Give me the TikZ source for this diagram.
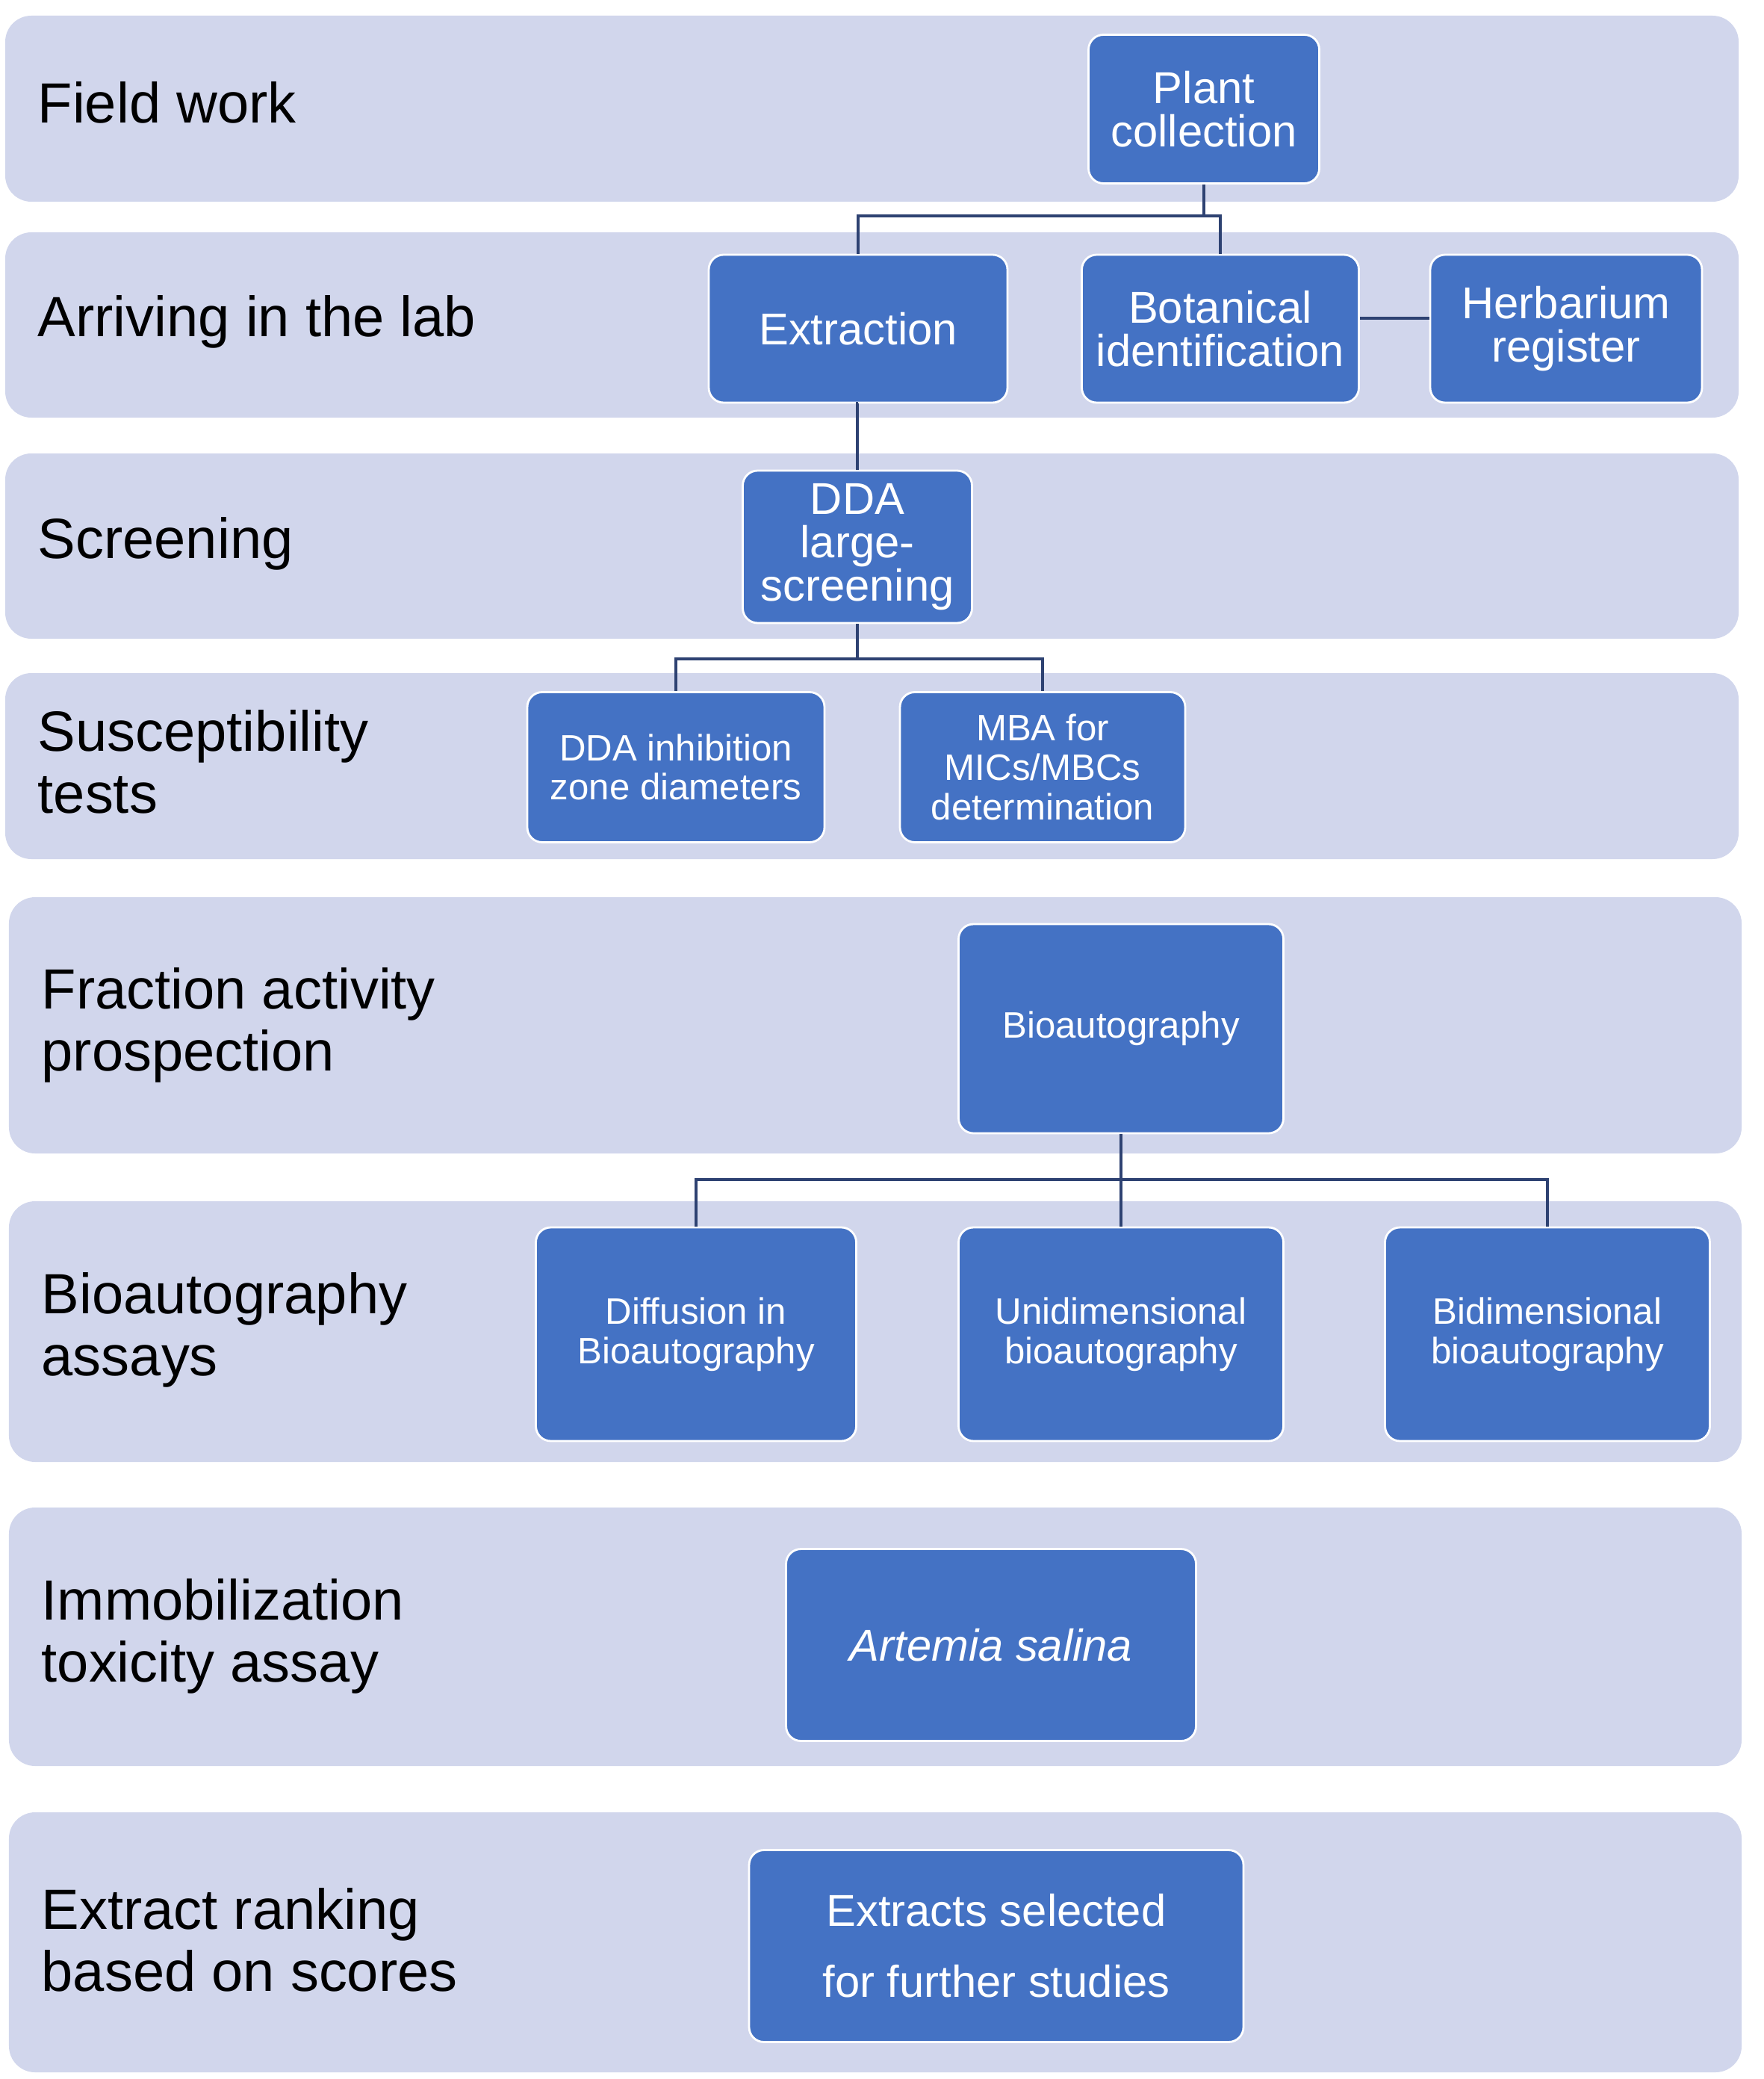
\documentclass[tikz,border=0pt]{standalone}
\usepackage{fontspec}
\setmainfont{Liberation Sans}
\usetikzlibrary{positioning}

\definecolor{bandfill}{HTML}{D1D6EC}
\definecolor{boxfill}{HTML}{4472C4}
\definecolor{linkcol}{HTML}{2E4272}

\tikzset{
  band/.style={fill=bandfill, rounded corners=0.35cm},
  lbl/.style={anchor=west, align=left, inner sep=0pt, font=\fontsize{21.6}{23.6}\selectfont},
  box/.style={rectangle, rounded corners=0.2cm, fill=boxfill, draw=white,
              line width=0.8pt, text=white, align=center, inner sep=0pt},
  bigbox/.style={box, font=\fontsize{17}{16.6}\selectfont},
  smallbox/.style={box, font=\fontsize{14}{15}\selectfont},
  link/.style={draw=linkcol, line width=1.1pt}
}

\begin{document}
\begin{tikzpicture}
\useasboundingbox (0,0) rectangle (23.62,-27.83);

% stage bands
\fill[band] (0.07,-0.21) rectangle (23.28,-2.70);
\fill[band] (0.07,-3.11) rectangle (23.28,-5.59);
\fill[band] (0.07,-6.07) rectangle (23.28,-8.55);
\fill[band] (0.07,-9.01) rectangle (23.28,-11.50);
\fill[band] (0.12,-12.01) rectangle (23.32,-15.44);
\fill[band] (0.12,-16.08) rectangle (23.32,-19.57);
\fill[band] (0.12,-20.18) rectangle (23.32,-23.64);
\fill[band] (0.12,-24.26) rectangle (23.32,-27.74);

% stage labels
\node[lbl] (fieldwork) at (0.50,-1.37)  {Field work};
\node[lbl] (arriving)  at (0.50,-4.31)  {Arriving in the lab};
\node[lbl] (screening) at (0.50,-7.28)  {Screening};
\node[lbl] (suscept)   at (0.50,-10.20) {Susceptibility\\tests};
\node[lbl] (fraction)  at (0.55,-13.72) {Fraction activity\\prospection};
\node[lbl] (bioassays) at (0.55,-17.80) {Bioautography\\assays};
\node[lbl] (immob)     at (0.55,-21.90) {Immobilization\\toxicity assay};
\node[lbl] (ranking)   at (0.55,-25.97) {Extract ranking\\based on scores};

% process boxes
\begin{scope}[every node/.style={bigbox}]
\node[minimum width=3.09cm, minimum height=1.99cm] (plant)  at (16.12,-1.46) {Plant\\collection};
\node[minimum width=4.00cm, minimum height=1.98cm] (extr)   at (11.49,-4.40) {Extraction};
\node[minimum width=3.71cm, minimum height=1.98cm] (botan)  at (16.34,-4.40) {Botanical\\identification};
\node[minimum width=3.64cm, minimum height=1.98cm] (herb)   at (20.97,-4.40) {Herbarium\\register};
\node[minimum width=3.07cm, minimum height=2.04cm] (ddals)  at (11.48,-7.32) {DDA\\large-\\screening};
\end{scope}

\begin{scope}[every node/.style={smallbox}]
\node[minimum width=3.98cm, minimum height=2.01cm] (ddainh) at (9.05,-10.27)  {DDA inhibition\\zone diameters};
\node[minimum width=3.82cm, minimum height=2.01cm] (mba)    at (13.96,-10.27) {MBA for\\MICs/MBCs\\determination};
\node[minimum width=4.35cm, minimum height=2.80cm] (bioa)   at (15.01,-13.77) {Bioautography};
\node[minimum width=4.29cm, minimum height=2.86cm] (diff)   at (9.32,-17.86)  {Diffusion in\\Bioautography};
\node[minimum width=4.35cm, minimum height=2.86cm] (uni)    at (15.01,-17.86) {Unidimensional\\bioautography};
\node[minimum width=4.35cm, minimum height=2.86cm] (bid)    at (20.72,-17.86) {Bidimensional\\bioautography};
\end{scope}

\node[bigbox, minimum width=5.49cm, minimum height=2.57cm] (artemia) at (13.27,-22.02) {\itshape Artemia salina};
\node[bigbox, font=\fontsize{17}{27}\selectfont, minimum width=6.62cm, minimum height=2.57cm]
  (extsel) at (13.34,-26.05) {Extracts selected\\for further studies};

% bus levels
\coordinate (busA) at (0,-2.89);
\coordinate (busB) at (0,-8.82);
\coordinate (busC) at (0,-15.79);

% connectors
\begin{scope}[every path/.style={link}]
\draw (plant.south) -- (plant.south |- busA) -| (extr.north);
\draw (plant.south) -- (plant.south |- busA) -| (botan.north);
\draw ([yshift=0.14cm]botan.east) -- ([yshift=0.14cm]herb.west);
\draw (extr.south) -- (extr.south -| ddals.north) -- (ddals.north);
\draw (ddals.south) -- (ddals.south |- busB) -| (ddainh.north);
\draw (ddals.south) -- (ddals.south |- busB) -| (mba.north);
\draw (bioa.south) -- (bioa.south |- busC) -| (diff.north);
\draw (bioa.south) -- (uni.north);
\draw (bioa.south) -- (bioa.south |- busC) -| (bid.north);
\end{scope}
\end{tikzpicture}
\end{document}
